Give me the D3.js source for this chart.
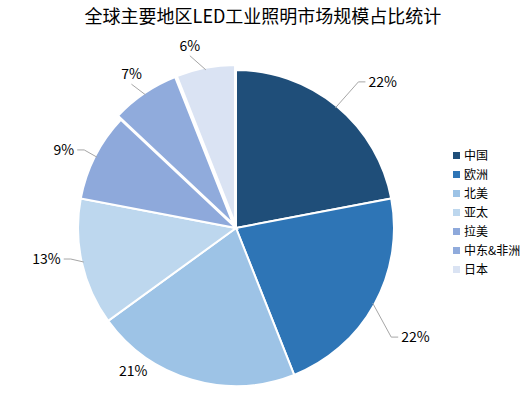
<!DOCTYPE html>
<html>
<head>
<meta charset="utf-8">
<script src="https://cdn.jsdelivr.net/npm/d3@7"></script>
<style>
  body { margin: 0; background: #fff; }
  svg { display: block; font-family: "Noto Sans CJK SC", "Noto Sans", sans-serif; }
</style>
</head>
<body>
<div id="chart"></div>
<script>
// data
const regions = ['中国', '欧洲', '北美', '亚太', '拉美', '中东&非洲', '日本'];
const shares = [22, 22, 21, 13, 9, 7, 6];
const colors = ['#1F4E79', '#2E75B6', '#9DC3E6', '#BDD7EE', '#8EA9DB', '#90ABDC', '#DAE3F3'];
const exploded = [0, 0, 0, 0, 0, 5, 5];
// label placement (angle shift in degrees, radius) tuned to match the picture
const labelShift = [5.5, 2.5, 19.5, 3.3, -2.6, 0, -3.4];
const labelRadius = [207, 210, 176, 192, 189, 186, 188];
const leader = [true, true, false, true, true, true, true];

const W = 530, H = 397;
const cx = 236, cy = 228, R = 158;

const svg = d3.select('#chart').append('svg')
  .attr('width', W).attr('height', H);

svg.append('text')
  .attr('x', 263).attr('y', 23)
  .attr('text-anchor', 'middle')
  .attr('font-size', 18)
  .attr('fill', '#000')
  .text('全球主要地区LED工业照明市场规模占比统计');

const data = regions.map((r, i) => ({ region: r, value: shares[i], i }));

const pie = d3.pie().sort(null).value(d => d.value);
const arcs = pie(data);
const arc = d3.arc().innerRadius(0).outerRadius(R);

const polar = (ang, r) => [Math.sin(ang) * r, -Math.cos(ang) * r];

const g = svg.append('g').attr('transform', `translate(${cx},${cy})`);

g.selectAll('path.slice').data(arcs).enter()
  .append('path')
  .attr('class', 'slice')
  .attr('d', arc)
  .attr('fill', d => colors[d.data.i])
  .attr('stroke', '#fff')
  .attr('stroke-width', 2)
  .attr('transform', d => {
    const mid = (d.startAngle + d.endAngle) / 2;
    const [x, y] = polar(mid, exploded[d.data.i]);
    return `translate(${x},${y})`;
  });

// data labels
arcs.forEach(d => {
  const i = d.data.i;
  const mid = (d.startAngle + d.endAngle) / 2;
  const la = mid + labelShift[i] * Math.PI / 180;
  const [lx, ly] = polar(la, labelRadius[i]);
  const txt = g.append('text')
    .attr('x', lx).attr('y', ly)
    .attr('dy', '0.35em')
    .attr('text-anchor', 'middle')
    .attr('font-size', 14)
    .attr('fill', '#000')
    .text(d.value + '%');
  if (!leader[i]) return;
  const tw = txt.node().getComputedTextLength();
  const [sx, sy] = polar(mid, R - 2 + exploded[i]);
  let pts;
  if (Math.abs(Math.sin(la)) > 0.6) {
    const side = lx > 0 ? -1 : 1;
    const ex = lx + side * (tw / 2 + 3);
    pts = [[sx, sy], [ex + side * 7, ly], [ex, ly]];
  } else {
    const ey = ly + (ly < 0 ? 10 : -10);
    pts = [[sx, sy], [lx, ey]];
  }
  g.append('path')
    .attr('d', d3.line()(pts))
    .attr('fill', 'none')
    .attr('stroke', '#A6A6A6')
    .attr('stroke-width', 1);
});

// legend
const legend = svg.append('g').attr('transform', 'translate(453,156)');
const item = legend.selectAll('g').data(data).enter()
  .append('g')
  .attr('transform', (d, i) => `translate(0,${i * 19})`);
item.append('rect')
  .attr('x', 0).attr('y', -4)
  .attr('width', 7).attr('height', 7)
  .attr('fill', d => colors[d.i]);
item.append('text')
  .attr('x', 11).attr('y', 0)
  .attr('dy', '0.35em')
  .attr('font-size', 12)
  .attr('fill', '#000')
  .text(d => d.region);
</script>
</body>
</html>
